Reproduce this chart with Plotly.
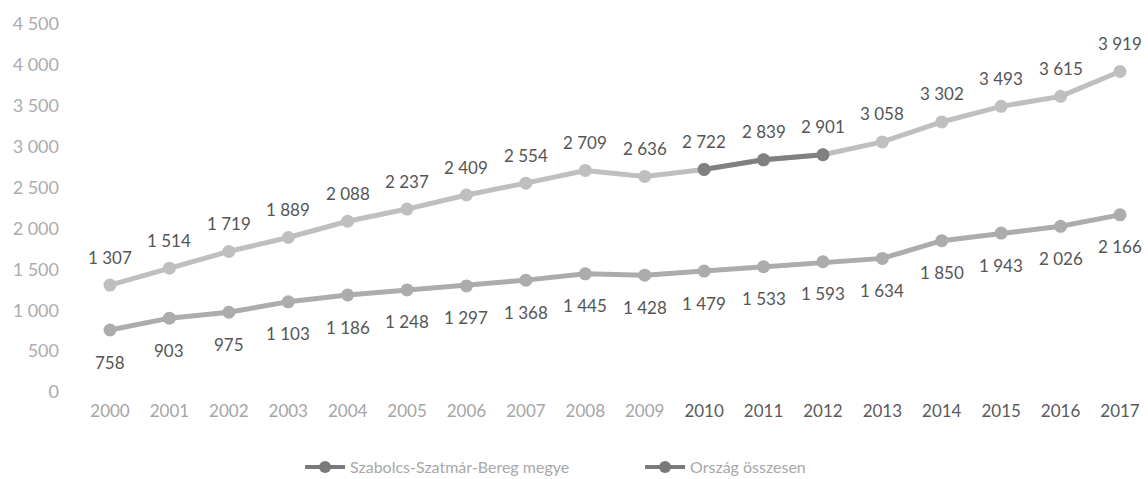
import plotly.graph_objects as go

years = list(range(2000, 2018))
szabolcs = [758, 903, 975, 1103, 1186, 1248, 1297, 1368, 1445, 1428, 1479, 1533, 1593, 1634, 1850, 1943, 2026, 2166]
orszag = [1307, 1514, 1719, 1889, 2088, 2237, 2409, 2554, 2709, 2636, 2722, 2839, 2901, 3058, 3302, 3493, 3615, 3919]
y_ticks = [0, 500, 1000, 1500, 2000, 2500, 3000, 3500, 4000, 4500]

FONT = "Lato, Carlito, Calibri, sans-serif"
LOW_COL = "#acacac"
UP_COL = "#bfbfbf"
DARK_COL = "#808080"
LEG_COL = "#7a7a7a"

def fmt(v):
    return f"{v:,}".replace(",", " ")

fig = go.Figure()

fig.add_trace(go.Scatter(x=years, y=orszag, mode="lines+markers", showlegend=False,
                         line=dict(color=UP_COL, width=5),
                         marker=dict(color=UP_COL, size=13)))
# darker scanned segment
fig.add_trace(go.Scatter(x=years[10:13], y=orszag[10:13], mode="lines+markers", showlegend=False,
                         line=dict(color=DARK_COL, width=5),
                         marker=dict(color=DARK_COL, size=13)))
fig.add_trace(go.Scatter(x=years, y=szabolcs, mode="lines+markers", showlegend=False,
                         line=dict(color=LOW_COL, width=5),
                         marker=dict(color=LOW_COL, size=13)))

# legend-only entries
fig.add_trace(go.Scatter(x=[None], y=[None], mode="lines+markers", name="Szabolcs-Szatmár-Bereg megye",
                         line=dict(color=LEG_COL, width=4), marker=dict(color=LEG_COL, size=12)))
fig.add_trace(go.Scatter(x=[None], y=[None], mode="lines+markers", name="Ország összesen",
                         line=dict(color=LEG_COL, width=4), marker=dict(color=LEG_COL, size=12)))

annotations = []
for x, v in zip(years, orszag):
    annotations.append(dict(x=x, y=v, text=fmt(v), showarrow=False, yshift=28,
                            font=dict(family=FONT, size=17, color="#555555")))
for x, v in zip(years, szabolcs):
    annotations.append(dict(x=x, y=v, text=fmt(v), showarrow=False, yshift=-32,
                            font=dict(family=FONT, size=17, color="#555555")))

xtext = [f"<span style='color:{'#a5a5a5' if y < 2010 else '#5a5a5a'}'>{y}</span>" for y in years]

fig.update_layout(
    width=1148, height=479,
    margin=dict(l=80, r=10, t=24, b=87, autoexpand=False),
    paper_bgcolor="white", plot_bgcolor="white",
    font=dict(family=FONT, size=15, color="#aaaaaa"),
    annotations=annotations,
    showlegend=True,
    legend=dict(orientation="h", x=0.208, xanchor="left", y=-0.204, yanchor="middle",
                font=dict(family=FONT, size=16, color="#a8a8a8"), itemwidth=40,
                entrywidth=285),
    xaxis=dict(range=[1999.495, 2017.303], tickmode="array", tickvals=years, ticktext=xtext,
               showgrid=False, zeroline=False, showline=False, ticklabelstandoff=7,
               tickfont=dict(family=FONT, size=17)),
    yaxis=dict(range=[0, 4500], tickmode="array", tickvals=y_ticks,
               ticktext=[fmt(v) for v in y_ticks], showgrid=False, zeroline=False,
               showline=False, ticklabelstandoff=20,
               tickfont=dict(family=FONT, size=18, color="#acacac")),
)

fig.write_html("out.html", config={"displayModeBar": False},
               post_script="document.body.style.margin='0';document.body.style.overflow='hidden';")
